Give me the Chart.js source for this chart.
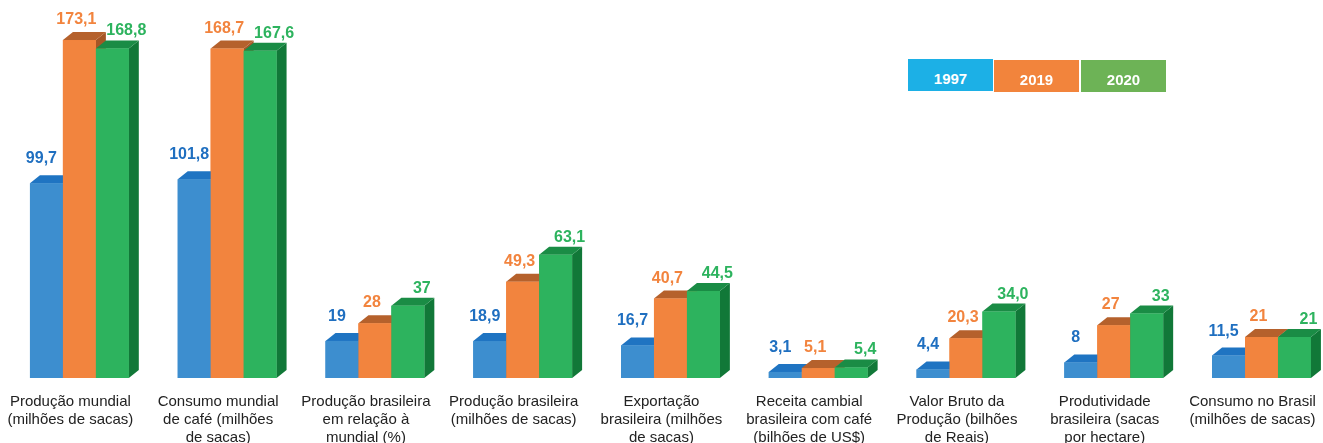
<!DOCTYPE html>
<html>
<head>
<meta charset="utf-8">
<script src="https://cdn.jsdelivr.net/npm/chart.js@4/dist/chart.umd.min.js"></script>
<style>
  html, body { margin: 0; padding: 0; background: #fff; overflow: hidden; }
  #wrap { position: absolute; left: 0; top: 0; width: 1340px; height: 443px; }
  .key { position: absolute; height: 32px; width: 85px; color: #fff; font: bold 15px "Liberation Sans", Arial, sans-serif;
         text-align: center; line-height: 40px; }
</style>
</head>
<body>
<div id="wrap"><canvas id="c"></canvas></div>
<div class="key" style="left:908px;top:59px;background:#1cb0e6;">1997</div>
<div class="key" style="left:994px;top:60px;background:#f2843c;">2019</div>
<div class="key" style="left:1081px;top:60px;background:#6db356;">2020</div>
<script>
const categories = [
  ["Produção mundial", "(milhões de sacas)"],
  ["Consumo mundial", "de café (milhões", "de sacas)"],
  ["Produção brasileira", "em relação à", "mundial (%)"],
  ["Produção brasileira", "(milhões de sacas)"],
  ["Exportação", "brasileira (milhões", "de sacas)"],
  ["Receita cambial", "brasileira com café", "(bilhões de US$)"],
  ["Valor Bruto da", "Produção (bilhões", "de Reais)"],
  ["Produtividade", "brasileira (sacas", "por hectare)"],
  ["Consumo no Brasil", "(milhões de sacas)"]
];
const years = ["1997", "2019", "2020"];
const v1997 = [99.7, 101.8, 19, 18.9, 16.7, 3.1, 4.4, 8, 11.5];
const v2019 = [173.1, 168.7, 28, 49.3, 40.7, 5.1, 20.3, 27, 21];
const v2020 = [168.8, 167.6, 37, 63.1, 44.5, 5.4, 34.0, 33, 21];
const t1997 = ["99,7", "101,8", "19", "18,9", "16,7", "3,1", "4,4", "8", "11,5"];
const t2019 = ["173,1", "168,7", "28", "49,3", "40,7", "5,1", "20,3", "27", "21"];
const t2020 = ["168,8", "167,6", "37", "63,1", "44,5", "5,4", "34,0", "33", "21"];

// front, top, side, label colour per series
const colors = [
  {front: '#3d8ecf', top: '#1f74c2', side: '#1a5f9e', text: '#1f6fc0', dx: -5, dy: 20},
  {front: '#f2843e', top: '#b5612c', side: '#a65626', text: '#f2843e', dx: -3, dy: 16},
  {front: '#2db35e', top: '#1a8c45', side: '#117838', text: '#2db35e', dx: 14, dy: 13}
];
const texts = [t1997, t2019, t2020];
const DX = 10, DY = 8;

const bars3d = {
  id: 'bars3d',
  afterDatasetsDraw(chart) {
    const ctx = chart.ctx;
    const n = chart.data.labels.length;
    ctx.save();
    for (let i = 0; i < n; i++) {
      chart.data.datasets.forEach((ds, d) => {
        const el = chart.getDatasetMeta(d).data[i];
        const c = colors[d];
        const l = el.x - el.width / 2, r = el.x + el.width / 2;
        const t = el.y, b = el.base;
        ctx.fillStyle = c.side;
        ctx.beginPath();
        ctx.moveTo(r, t); ctx.lineTo(r + DX, t - DY); ctx.lineTo(r + DX, b - DY); ctx.lineTo(r, b);
        ctx.closePath(); ctx.fill();
        ctx.fillStyle = c.top;
        ctx.beginPath();
        ctx.moveTo(l, t); ctx.lineTo(l + DX, t - DY); ctx.lineTo(r + DX, t - DY); ctx.lineTo(r, t);
        ctx.closePath(); ctx.fill();
        ctx.fillStyle = c.front;
        ctx.fillRect(l, t, el.width, b - t);
      });
    }
    ctx.font = 'bold 16px "Liberation Sans", Arial, sans-serif';
    ctx.textAlign = 'center';
    ctx.textBaseline = 'alphabetic';
    chart.data.datasets.forEach((ds, d) => {
      const c = colors[d];
      ctx.fillStyle = c.text;
      chart.getDatasetMeta(d).data.forEach((el, i) => {
        ctx.fillText(texts[d][i], el.x + c.dx, el.y - c.dy);
      });
    });
    ctx.restore();
  }
};

new Chart(document.getElementById('c'), {
  type: 'bar',
  data: {
    labels: categories,
    datasets: [
      {label: years[0], data: v1997, backgroundColor: colors[0].front},
      {label: years[1], data: v2019, backgroundColor: colors[1].front},
      {label: years[2], data: v2020, backgroundColor: colors[2].front}
    ]
  },
  options: {
    responsive: true,
    maintainAspectRatio: false,
    animation: false,
    layout: {padding: {left: 5.5, right: 2.5, top: 0, bottom: 0}},
    datasets: {bar: {categoryPercentage: 0.669, barPercentage: 1, borderWidth: 0}},
    plugins: {legend: {display: false}, tooltip: {enabled: false}},
    scales: {
      x: {
        grid: {display: false, drawTicks: false},
        border: {display: false},
        ticks: {
          color: '#222',
          font: {family: '"Liberation Sans", Arial, sans-serif', size: 15, lineHeight: 1.2},
          padding: 15,
          labelOffset: -9,
          maxRotation: 0,
          autoSkip: false
        },
        afterFit(scale) { scale.height = 65; }
      },
      y: {display: false, min: 0, max: 193.6}
    }
  },
  plugins: [bars3d]
});
</script>
</body>
</html>
